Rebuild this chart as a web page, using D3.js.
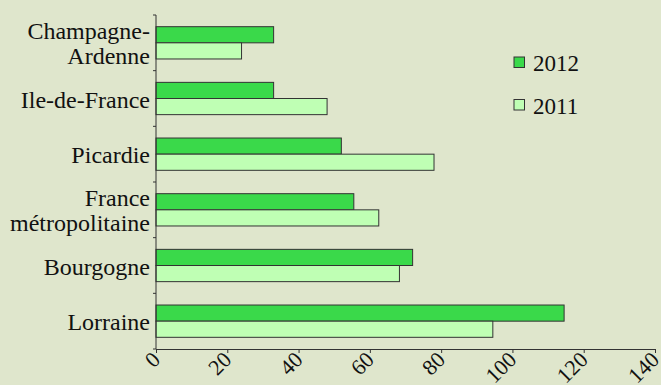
<!DOCTYPE html>
<html>
<head>
<meta charset="utf-8">
<script src="https://cdn.jsdelivr.net/npm/d3@7"></script>
<style>
  body { margin: 0; background: #dfe6cc; }
  svg { display: block; }
  text { font-family: "Liberation Serif", "Times New Roman", serif; fill: #111; }
</style>
</head>
<body>
<script>
const width = 661;
const height = 385;

const regions = ["Champagne-\nArdenne", "Ile-de-France", "Picardie", "France\nmétropolitaine", "Bourgogne", "Lorraine"];
const years = ["2012", "2011"];
const values2012 = [33, 33, 52, 55.5, 72, 114.5];
const values2011 = [24, 48, 78, 62.5, 68.3, 94.5];
const xTicks = [0, 20, 40, 60, 80, 100, 120, 140];
const colors = ["#3ad94a", "#bfffb4"];

const margin = { top: 15, right: 6, bottom: 36, left: 156 };

const svg = d3.select("body").append("svg")
    .attr("width", width)
    .attr("height", height)
    .attr("font-family", "Liberation Serif, serif");

svg.append("rect")
    .attr("width", width)
    .attr("height", height)
    .attr("fill", "#dfe6cc");

const x = d3.scaleLinear()
    .domain([0, 140])
    .range([margin.left, width - margin.right]);

const y = d3.scaleBand()
    .domain(regions)
    .range([margin.top, height - margin.bottom])
    .paddingInner(0.42)
    .paddingOuter(0.21);

const ySub = d3.scaleBand()
    .domain(years)
    .range([0, y.bandwidth()]);

const rows = regions.map((r, i) => ({ region: r, values: [values2012[i], values2011[i]] }));

const group = svg.append("g")
    .selectAll("g")
    .data(rows)
    .join("g")
    .attr("transform", d => `translate(0,${y(d.region)})`);

group.selectAll("rect")
    .data(d => d.values.map((v, j) => ({ year: years[j], value: v, j })))
    .join("rect")
    .attr("x", x(0))
    .attr("y", d => ySub(d.year))
    .attr("width", d => x(d.value) - x(0))
    .attr("height", ySub.bandwidth())
    .attr("fill", d => colors[d.j])
    .attr("stroke", "#333")
    .attr("stroke-width", 1);

// y axis: line with ticks between the categories
const yAxis = svg.append("g");
yAxis.append("line")
    .attr("x1", x(0)).attr("x2", x(0))
    .attr("y1", margin.top).attr("y2", height - margin.bottom)
    .attr("stroke", "#333");

const bounds = d3.range(regions.length + 1).map(i => margin.top + i * (height - margin.top - margin.bottom) / regions.length);
yAxis.selectAll(".tk")
    .data(bounds)
    .join("line")
    .attr("x1", x(0) - 3).attr("x2", x(0))
    .attr("y1", d => d).attr("y2", d => d)
    .attr("stroke", "#333");

yAxis.selectAll(".lbl")
    .data(regions)
    .join("text")
    .attr("text-anchor", "end")
    .attr("font-size", 24)
    .each(function(d) {
        const lines = d.split("\n");
        const cy = y(d) + y.bandwidth() / 2;
        const lh = 25;
        d3.select(this).selectAll("tspan")
            .data(lines)
            .join("tspan")
            .attr("x", x(0) - 6)
            .attr("y", (l, k) => cy + 9 + (k - (lines.length - 1) / 2) * lh)
            .text(l => l);
    });

// x axis
const xAxis = svg.append("g")
    .attr("transform", `translate(0,${height - margin.bottom})`)
    .call(d3.axisBottom(x).tickValues(xTicks).tickSize(4).tickSizeOuter(4));

xAxis.attr("font-family", null);
xAxis.select(".domain").attr("stroke", "#333");
xAxis.selectAll(".tick line").attr("stroke", "#333");
xAxis.selectAll(".tick text")
    .attr("font-size", 22)
    .attr("fill", "#111")
    .attr("text-anchor", "end")
    .attr("dy", 0)
    .attr("x", -5)
    .attr("y", 12)
    .attr("transform", "rotate(-45)");

// legend
const legend = svg.append("g")
    .attr("transform", "translate(514,57)");

const item = legend.selectAll("g")
    .data(years)
    .join("g")
    .attr("transform", (d, i) => `translate(0,${i * 42.5})`);

item.append("rect")
    .attr("width", 10.5)
    .attr("height", 10.5)
    .attr("fill", (d, i) => colors[i])
    .attr("stroke", "#333");

item.append("text")
    .attr("x", 19)
    .attr("y", 14)
    .attr("font-size", 23)
    .text(d => d);
</script>
</body>
</html>
